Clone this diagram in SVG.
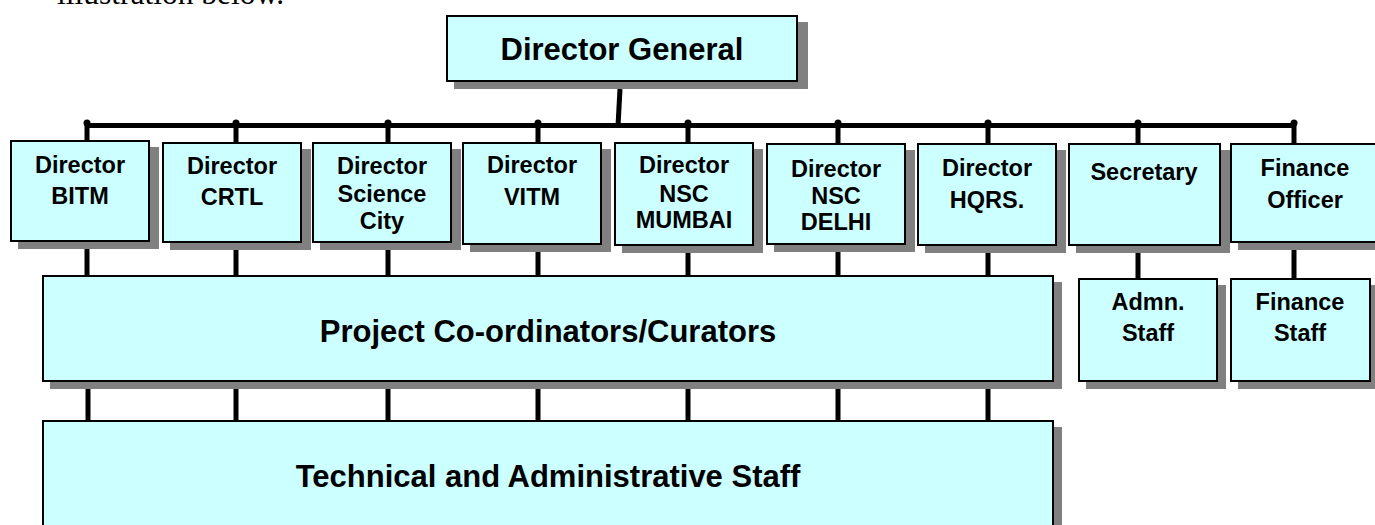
<svg xmlns="http://www.w3.org/2000/svg" width="1375" height="525" viewBox="0 0 1375 525">
<style>
.box{fill:#CCFFFF;stroke:#000;stroke-width:2}
.sh{fill:#808080}
.t{font-family:"Liberation Sans",Arial,sans-serif;font-weight:bold;font-size:23.5px;text-anchor:middle;fill:#000}
.tl{font-family:"Liberation Sans",Arial,sans-serif;font-weight:bold;font-size:31px;text-anchor:middle;fill:#000}
.c{stroke:#000;stroke-width:5;fill:none}
.d{fill:#000}
</style>
<rect width="1375" height="525" fill="#fff"/>
<text x="57" y="4" font-family="Liberation Serif,'Times New Roman',serif" font-size="31.5">illustration below.</text>

<g id="connectors">
<line class="c" x1="87" y1="125.5" x2="1294" y2="125.5"/>
<line class="c" x1="620" y1="89" x2="618" y2="126"/>
<g>
<line class="c" x1="87" y1="123" x2="87" y2="141"/>
<line class="c" x1="236" y1="123" x2="236" y2="143"/>
<line class="c" x1="388" y1="123" x2="388" y2="143"/>
<line class="c" x1="538" y1="123" x2="538" y2="143"/>
<line class="c" x1="688" y1="123" x2="688" y2="143"/>
<line class="c" x1="838" y1="123" x2="838" y2="144"/>
<line class="c" x1="988" y1="123" x2="988" y2="144"/>
<line class="c" x1="1138" y1="123" x2="1138" y2="144"/>
<line class="c" x1="1294" y1="123" x2="1294" y2="144"/>
</g>
<circle class="d" cx="87" cy="123" r="3.5"/>
<circle class="d" cx="236" cy="123" r="3.5"/>
<circle class="d" cx="388" cy="123" r="3.5"/>
<circle class="d" cx="538" cy="123" r="3.5"/>
<circle class="d" cx="688" cy="123" r="3.5"/>
<circle class="d" cx="838" cy="123" r="3.5"/>
<circle class="d" cx="988" cy="123" r="3.5"/>
<circle class="d" cx="1138" cy="123" r="3.5"/>
<circle class="d" cx="1294" cy="123" r="3.5"/>
<g>
<line class="c" x1="87" y1="242" x2="87" y2="276"/>
<line class="c" x1="236" y1="243" x2="236" y2="276"/>
<line class="c" x1="388" y1="243" x2="388" y2="276"/>
<line class="c" x1="538" y1="245" x2="538" y2="276"/>
<line class="c" x1="688" y1="246" x2="688" y2="276"/>
<line class="c" x1="838" y1="245" x2="838" y2="276"/>
<line class="c" x1="988" y1="246" x2="988" y2="276"/>
<line class="c" x1="1138" y1="246" x2="1138" y2="279"/>
<line class="c" x1="1294" y1="243" x2="1294" y2="279"/>
</g>
<g>
<line class="c" x1="88" y1="382" x2="88" y2="421"/>
<line class="c" x1="236" y1="382" x2="236" y2="421"/>
<line class="c" x1="388" y1="382" x2="388" y2="421"/>
<line class="c" x1="538" y1="382" x2="538" y2="421"/>
<line class="c" x1="688" y1="382" x2="688" y2="421"/>
<line class="c" x1="838" y1="382" x2="838" y2="421"/>
<line class="c" x1="988" y1="382" x2="988" y2="421"/>
</g>
</g>

<g id="dg">
<rect class="sh" x="454" y="22" width="354" height="67"/>
<rect class="box" x="447" y="16" width="350" height="65"/>
<text class="tl" x="622" y="60">Director General</text>
</g>

<g id="bitm">
<rect class="sh" x="18" y="147" width="141" height="102"/>
<rect class="box" x="11" y="141" width="138" height="100"/>
<text class="t" x="80" y="173">Director</text>
<text class="t" x="80" y="204">BITM</text>
</g>

<g id="crtl">
<rect class="sh" x="170" y="149" width="141" height="101"/>
<rect class="box" x="163" y="143" width="138" height="99"/>
<text class="t" x="232" y="174">Director</text>
<text class="t" x="232" y="205">CRTL</text>
</g>

<g id="sciencecity">
<rect class="sh" x="320" y="149" width="141" height="101"/>
<rect class="box" x="313" y="143" width="138" height="99"/>
<text class="t" x="382" y="174">Director</text>
<text class="t" x="382" y="202">Science</text>
<text class="t" x="382" y="229">City</text>
</g>

<g id="vitm">
<rect class="sh" x="470" y="149" width="141" height="103"/>
<rect class="box" x="463" y="143" width="138" height="101"/>
<text class="t" x="532" y="173">Director</text>
<text class="t" x="532" y="205">VITM</text>
</g>

<g id="mumbai">
<rect class="sh" x="622" y="149" width="141" height="104"/>
<rect class="box" x="615" y="143" width="138" height="102"/>
<text class="t" x="684" y="173">Director</text>
<text class="t" x="684" y="202">NSC</text>
<text class="t" x="684" y="228">MUMBAI</text>
</g>

<g id="delhi">
<rect class="sh" x="774" y="150" width="141" height="102"/>
<rect class="box" x="767" y="144" width="138" height="100"/>
<text class="t" x="836" y="177">Director</text>
<text class="t" x="836" y="204">NSC</text>
<text class="t" x="836" y="230">DELHI</text>
</g>

<g id="hqrs">
<rect class="sh" x="925" y="150" width="141" height="103"/>
<rect class="box" x="918" y="144" width="138" height="101"/>
<text class="t" x="987" y="176">Director</text>
<text class="t" x="987" y="208">HQRS.</text>
</g>

<g id="secretary">
<rect class="sh" x="1076" y="150" width="154" height="103"/>
<rect class="box" x="1069" y="144" width="151" height="101"/>
<text class="t" x="1144" y="180">Secretary</text>
</g>

<g id="financeofficer">
<rect class="sh" x="1238" y="150" width="151" height="100"/>
<rect class="box" x="1231" y="144" width="148" height="98"/>
<text class="t" x="1305" y="176">Finance</text>
<text class="t" x="1305" y="208">Officer</text>
</g>

<g id="project">
<rect class="sh" x="50" y="282" width="1012" height="107"/>
<rect class="box" x="43" y="276" width="1010" height="105"/>
<text class="tl" x="548" y="342">Project Co-ordinators/Curators</text>
</g>

<g id="admn">
<rect class="sh" x="1086" y="285" width="140" height="104"/>
<rect class="box" x="1079" y="279" width="138" height="102"/>
<text class="t" x="1148" y="310">Admn.</text>
<text class="t" x="1148" y="341">Staff</text>
</g>

<g id="financestaff">
<rect class="sh" x="1238" y="285" width="141" height="104"/>
<rect class="box" x="1231" y="279" width="139" height="102"/>
<text class="t" x="1300" y="310">Finance</text>
<text class="t" x="1300" y="341">Staff</text>
</g>

<g id="technical">
<rect class="sh" x="50" y="427" width="1012" height="120"/>
<rect class="box" x="43" y="421" width="1010" height="118"/>
<text class="tl" x="548" y="487">Technical and Administrative Staff</text>
</g>
</svg>
